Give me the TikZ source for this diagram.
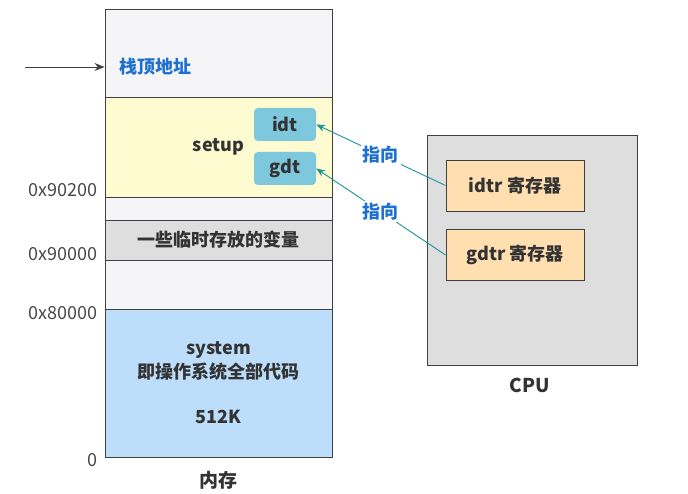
\documentclass[tikz,border=0pt]{standalone}
\usepackage{fontspec}
\setmainfont{Noto Sans CJK SC}
\usetikzlibrary{arrows.meta}

\definecolor{txt}{RGB}{51,51,51}
\definecolor{addrtxt}{RGB}{72,72,72}
\definecolor{edge}{RGB}{64,64,64}
\definecolor{stackbg}{RGB}{245,245,247}
\definecolor{setupbg}{RGB}{255,251,208}
\definecolor{tempbg}{RGB}{222,222,222}
\definecolor{sysbg}{RGB}{189,222,251}
\definecolor{tblbg}{RGB}{126,200,222}
\definecolor{cpubg}{RGB}{222,222,222}
\definecolor{regbg}{RGB}{255,222,176}
\definecolor{ptrcol}{RGB}{26,150,155}
\definecolor{note}{RGB}{30,112,208}

\tikzset{
  memrow/.style={draw=edge, line width=0.9pt, minimum width=227pt, inner sep=0pt, text=txt, font=\fontsize{18}{24}\selectfont\bfseries},
  tblbox/.style={fill=tblbg, rounded corners=4pt, minimum width=62pt, minimum height=33pt, text=txt, font=\fontsize{18}{20}\selectfont\bfseries},
  regbox/.style={draw=edge, line width=0.9pt, fill=regbg, minimum width=138pt, minimum height=51pt, text=txt, font=\fontsize{18}{20}\selectfont\bfseries},
  addr/.style={anchor=east, inner sep=0pt, text=addrtxt, font=\fontsize{18}{20}\selectfont},
  ptr/.style={draw=ptrcol, line width=0.9pt, -{Stealth[length=9pt,width=7pt]}},
  ptrlbl/.style={fill=white, inner sep=2pt, text=note, font=\fontsize{18}{20}\selectfont\bfseries}
}

\begin{document}
\begin{tikzpicture}[x=1pt,y=-1pt]
\useasboundingbox (0,0) rectangle (688,494);
% memory column
\node[memrow, fill=stackbg, minimum height=88pt] (stacktop) at (218.5,53) {};
\node[memrow, fill=setupbg, minimum height=100pt] (setup) at (218.5,147) {setup};
\node[memrow, fill=stackbg, minimum height=23pt] (gapa) at (218.5,208.5) {};
\node[memrow, fill=tempbg, minimum height=40pt] (temp) at (218.5,240) {一些临时存放的变量};
\node[memrow, fill=stackbg, minimum height=49pt] (gapb) at (218.5,284.5) {};
\node[memrow, fill=sysbg, minimum height=148pt, align=center] (system) at (218.5,383) {system\\即操作系统全部代码\\[21pt]512K};
\node[text=txt, font=\fontsize{19}{20}\selectfont\bfseries] (mem) at (218.5,480) {内存};

% stack pointer
\coordinate (sp) at (25,67);
\draw[edge, line width=0.9pt, -{Stealth[length=10pt,width=8pt]}] (sp) -- (sp -| stacktop.west);
\node[anchor=west, text=note, font=\fontsize{18}{20}\selectfont\bfseries] (sptext) at (116,67) {栈顶地址};

% descriptor tables
\node[tblbox] (idt) at (285,124.5) {idt};
\node[tblbox] (gdt) at (285,168.5) {gdt};

% addresses
\foreach \a/\y in {0x90200/190,0x90000/254,0x80000/313,0/460}{\node[addr] at (98,\y) {\a};}

% cpu
\node[draw=edge, line width=0.9pt, fill=cpubg, minimum width=210pt, minimum height=230pt] (cpu) at (532,250) {};
\node[text=txt, font=\fontsize{19}{20}\selectfont\bfseries] (cpulbl) at (530,385) {CPU};
\node[regbox] (idtr) at (515,185.5) {idtr 寄存器};
\node[regbox] (gdtr) at (515,255) {gdtr 寄存器};

% pointers
\draw[ptr] (idtr.west) -- node[ptrlbl] {指向} (idt.east);
\draw[ptr] (gdtr.west) -- node[ptrlbl] {指向} (gdt.east);
\end{tikzpicture}
\end{document}
